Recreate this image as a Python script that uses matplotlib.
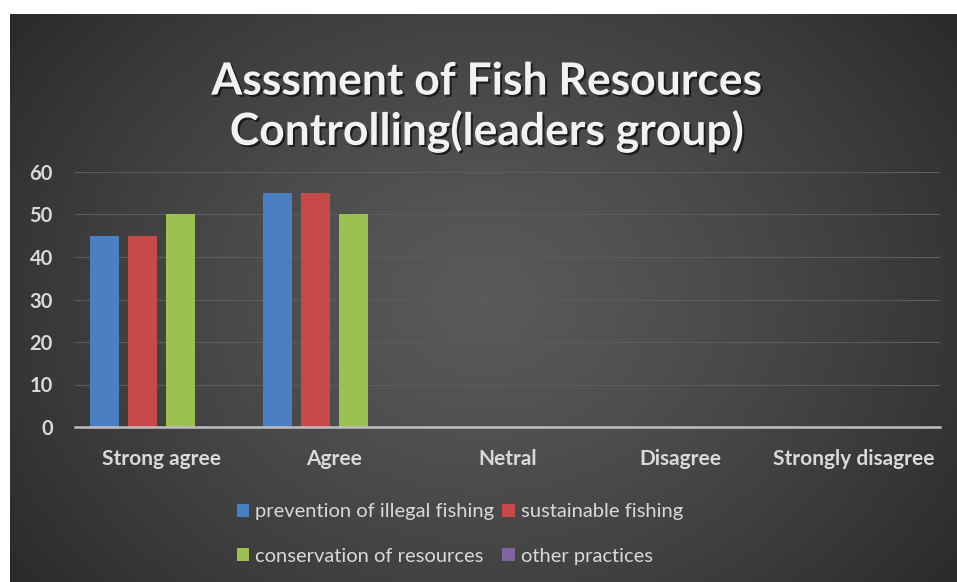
import numpy as np
import matplotlib
matplotlib.use("Agg")
import matplotlib.pyplot as plt
import matplotlib.patheffects as pe

categories = ["Strong agree", "Agree", "Netral", "Disagree", "Strongly disagree"]
series_names = ["prevention of illegal fishing", "sustainable fishing",
                "conservation of resources", "other practices"]
prevention = [45, 55, 0, 0, 0]
sustainable = [45, 55, 0, 0, 0]
conservation = [50, 50, 0, 0, 0]
other = [0, 0, 0, 0, 0]
yticks = [0, 10, 20, 30, 40, 50, 60]
title = "Asssment of Fish Resources\nControlling(leaders group)"

colors = ["#4a7fc4", "#c84a48", "#9bc150", "#8064a2"]
txt = "#d9d9d9"
FONT = "Lato"

W, H = 957, 582
fig = plt.figure(figsize=(W / 100, H / 100), dpi=100)
fig.patch.set_facecolor("white")

# background panel with radial gradient
bx0, by_top = 10, 14
bg = fig.add_axes([bx0 / W, 0, (W - bx0) / W, (H - by_top) / H], zorder=0)
ny, nx = 300, 500
yy, xx = np.mgrid[0:ny, 0:nx]
cx, cy = nx * 0.50, ny * 0.50
r = np.sqrt(((xx - cx) / (nx * 0.62)) ** 2 + ((yy - cy) / (ny * 0.85)) ** 2)
r = np.clip(r, 0, 1)
val = 0.35 - (0.35 - 0.165) * r ** 1.3
img = np.dstack([val, val, val])
bg.imshow(img, aspect="auto", extent=[0, 1, 0, 1], interpolation="bilinear")
bg.set_axis_off()

ax_l, ax_r = 75 / W, 940 / W
ax_b, ax_t = (H - 427) / H, (H - 172) / H
ax = fig.add_axes([ax_l, ax_b, ax_r - ax_l, ax_t - ax_b], zorder=1)
ax.patch.set_alpha(0)

x = np.arange(len(categories))
slot = 0.22
bw = 0.172
all_series = [prevention, sustainable, conservation, other]
handles = []
for i, (vals, c, name) in enumerate(zip(all_series, colors, series_names)):
    b = ax.bar(x + (i - 1.5) * slot, vals, width=bw, color=c, label=name, zorder=3)
    handles.append(b)

ax.set_xlim(-0.5, len(categories) - 0.5)
ax.set_ylim(0, 60)
ax.set_yticks(yticks)
ax.set_yticklabels([str(v) for v in yticks], fontsize=14.5, fontweight="bold",
                   color=txt, family=FONT)
ax.set_xticks(x)
ax.set_xticklabels(categories, fontsize=15, fontweight="bold", color=txt, family=FONT)
ax.tick_params(axis="both", length=0)
ax.tick_params(axis="y", pad=16)
ax.tick_params(axis="x", pad=16)
ax.grid(axis="y", color="#5c5c5c", linewidth=0.8, zorder=0)
ax.set_axisbelow(True)
for s in ["top", "right", "left"]:
    ax.spines[s].set_visible(False)
ax.spines["bottom"].set_color("#bfbfbf")
ax.spines["bottom"].set_linewidth(1.8)
ax.spines["bottom"].set_zorder(4)

t = fig.text(487 / W, 1 - 107 / H, title, ha="center", va="center",
             fontsize=32, fontweight="bold", color="#f2f2f2", family=FONT,
             linespacing=1.25, zorder=5)
t.set_path_effects([pe.withSimplePatchShadow(offset=(1.5, -1.5), shadow_rgbFace="black", alpha=0.6)])

order = [0, 2, 1, 3]
leg = fig.legend([handles[i] for i in order], [series_names[i] for i in order],
                 ncol=2, loc="center", bbox_to_anchor=(460 / W, 1 - 534 / H),
                 frameon=False, prop={"family": FONT, "size": 14.5},
                 handlelength=0.6, handleheight=0.6, handletextpad=0.3,
                 columnspacing=0.4, labelspacing=1.35)
for tx in leg.get_texts():
    tx.set_color(txt)

fig.savefig("out.png", dpi=100, facecolor=fig.get_facecolor())
